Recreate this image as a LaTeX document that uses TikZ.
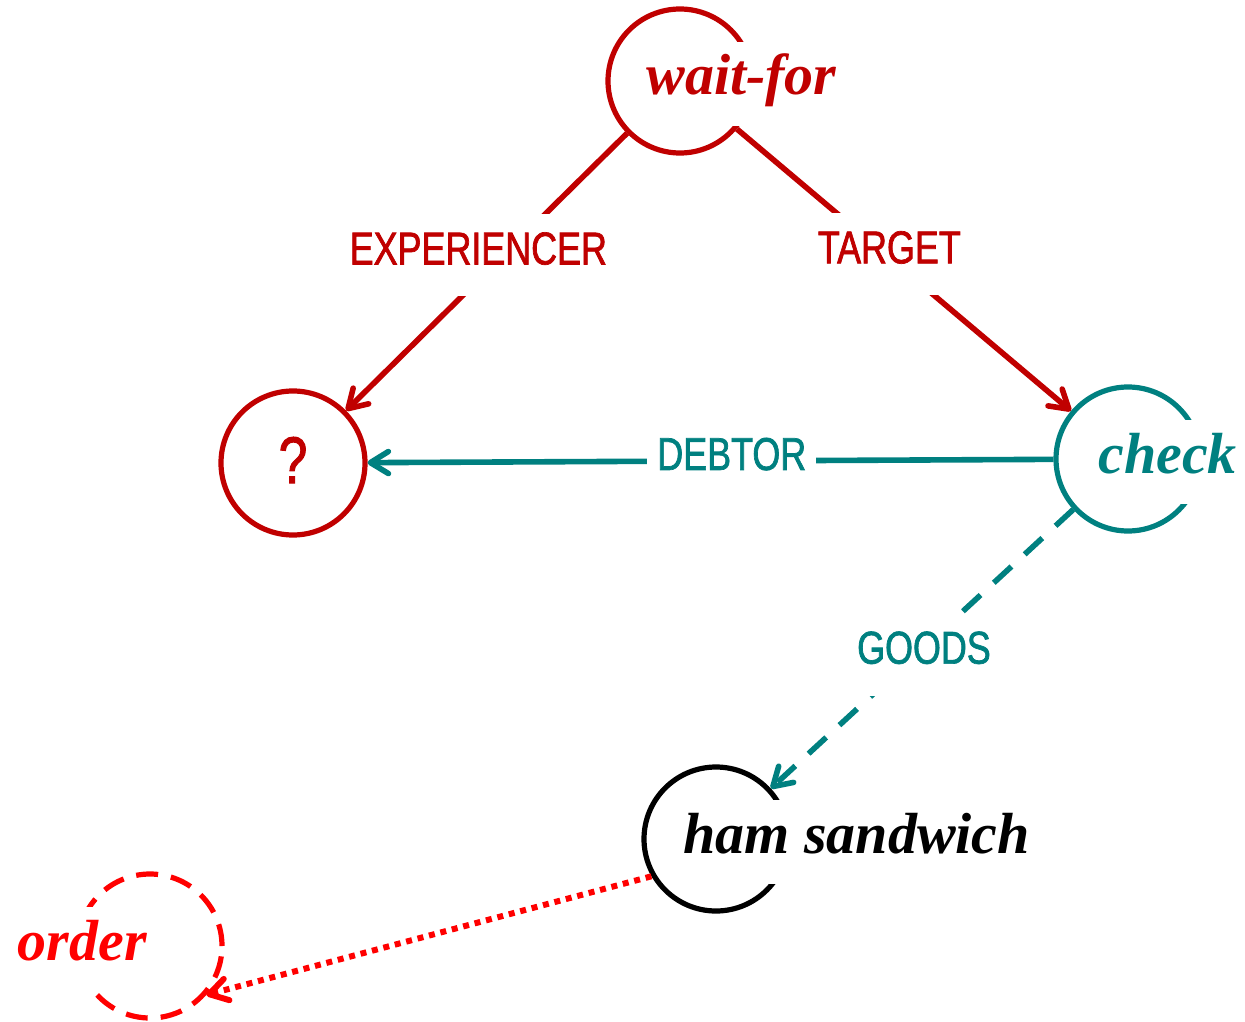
\documentclass[tikz,border=0pt]{standalone}
\usepackage{fontspec}
\setmainfont{Liberation Serif}
\newfontfamily\rolefont[FakeStretch=0.78,FakeBold=1.5]{Liberation Sans}
\usetikzlibrary{arrows.meta,positioning}
\definecolor{darkred}{RGB}{192,0,0}
\definecolor{roleteal}{RGB}{0,128,128}
\definecolor{brightred}{RGB}{255,0,0}
\tikzset{
    concept/.style={shape=circle, draw, line width=2.6pt, minimum size=72pt, inner sep=0pt},
    conceptname/.style={fill=white, font=\fontsize{29}{34}\selectfont\bfseries\itshape,
        text height=23pt, text depth=12pt, inner xsep=2pt, inner ysep=3.5pt},
    role/.style={fill=white, font=\rolefont\fontsize{23}{27}\selectfont,
        text depth=7pt, minimum height=41pt, inner xsep=5pt, inner ysep=0pt},
    link/.style={line width=2.8pt, -{Straight Barb[length=9pt,width=11pt,round]}}}

\begin{document}
\begin{tikzpicture}[x=0.5pt, y=-0.5pt]
        \useasboundingbox (0,0) rectangle (1245,1021);

            \node[concept, darkred, font=\rolefont\fontsize{33}{36}\selectfont, text depth=3pt] (q) at (293,463) {?};
            \node[concept, darkred] (wf) at (680,81) {};
            \node[concept, roleteal] (chk) at (1128,459) {};
            \node[concept, black] (ham) at (716,839) {};
            \node[concept, brightred, dash pattern=on 11pt off 6.5pt] (ord) at (150,946) {};

            \node[conceptname, text=darkred, anchor=base west] (wf-t) at ([shift={(-38,14)}]wf.center) {wait-for};
            \node[conceptname, text=roleteal, anchor=base west] (chk-t) at ([shift={(-34,14)}]chk.center) {check};
            \node[conceptname, text=black, anchor=base west] (ham-t) at ([shift={(-37,14)}]ham.center) {ham sandwich};
            \node[conceptname, text=brightred, anchor=base east] (ord-t) at ([shift={(1,14)}]ord.center) {order};

            \draw[link, darkred] (wf) -- (q) node[role, pos=0.44, xshift=-12.5pt] {EXPERIENCER};
            \draw[link, darkred] (wf) -- (chk) node[role, pos=0.444, xshift=2pt] {TARGET};
            \draw[link, roleteal] (chk) -- (q) node[role, pos=0.469] {DEBTOR};
            \draw[link, roleteal, dash pattern=on 12pt off 9pt] (chk) -- (ham) node[role, pos=0.52, xshift=4pt] {GOODS};
            \draw[link, brightred, line width=3pt, dash pattern=on 3pt off 2.9pt] (ham.210.6) -- (ord.-41.8);

        \end{tikzpicture}
\end{document}
